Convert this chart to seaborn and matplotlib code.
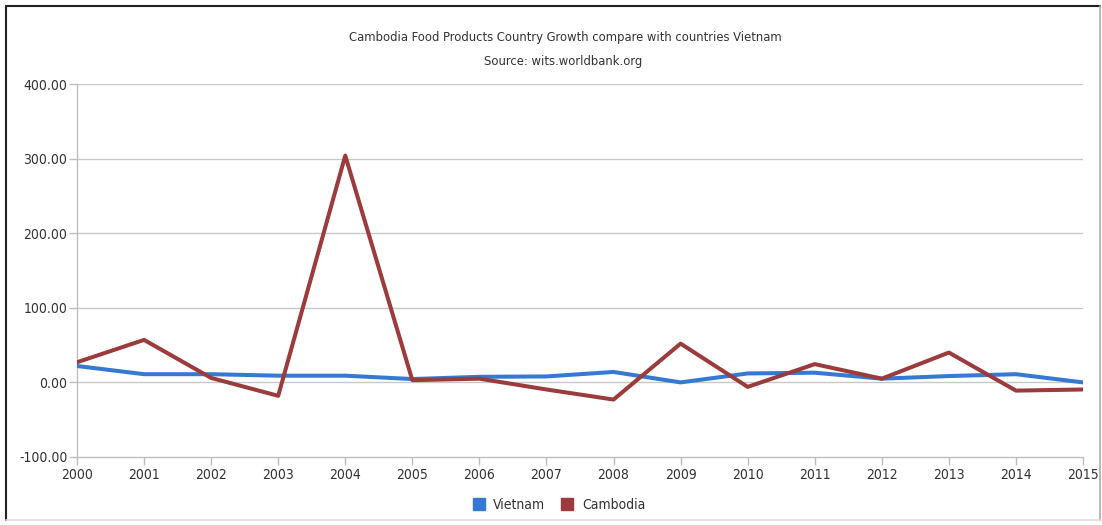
import matplotlib
matplotlib.use("Agg")
import matplotlib.pyplot as plt
import seaborn as sns
import pandas as pd
from matplotlib.lines import Line2D
from matplotlib import font_manager

years = list(range(2000, 2016))
vietnam = [22, 11, 11, 9, 9, 4.5, 7.5, 8, 14, 0, 12, 13, 5, 8.5, 11, 0]
cambodia = [27, 57, 6, -18, 304, 3, 5, -9.5, -23, 52, -6, 24.5, 5, 40, -11, -9.5]
series_names = ["Vietnam", "Cambodia"]
colors = ["#3579d3", "#9c3b3b"]
yticks = [-100, 0, 100, 200, 300, 400]
title_lines = ["Cambodia Food Products Country Growth compare with countries Vietnam",
               "Source: wits.worldbank.org"]

df = pd.concat([
    pd.DataFrame({"year": years, "value": vietnam, "country": "Vietnam"}),
    pd.DataFrame({"year": years, "value": cambodia, "country": "Cambodia"}),
])

sns.set_style("white")
names = {f.name for f in font_manager.fontManager.ttflist}
narrow = [n for n in ["Liberation Sans Narrow", "DejaVu Sans Condensed"] if n in names]
cond_dejavu = any(f.name == "DejaVu Sans" and f.stretch == "condensed" for f in font_manager.fontManager.ttflist)
if narrow:
    plt.rcParams["font.family"] = [narrow[0], "DejaVu Sans"]
elif cond_dejavu:
    plt.rcParams["font.family"] = ["DejaVu Sans"]
    plt.rcParams["font.stretch"] = "condensed"
else:
    plt.rcParams["font.family"] = ["Liberation Sans", "DejaVu Sans"]

fig = plt.figure(figsize=(11.02, 5.25), dpi=100)
ax = fig.add_axes([77/1102, 68/525, (1083-77)/1102, (457-84)/525])

sns.lineplot(data=df, x="year", y="value", hue="country", hue_order=series_names,
             palette=colors, linewidth=2.9, ax=ax, legend=False, zorder=3)

ax.set_xlim(2000, 2015)
ax.set_ylim(-100, 400)
ax.set_xticks(years)
ax.set_xticklabels([str(y) for y in years])
ax.set_yticks(yticks)
ax.set_yticklabels([f"{v:.2f}" for v in yticks])
for v in yticks[1:]:
    ax.axhline(v, color="#c8c8c8", lw=1, zorder=1)
ax.set_xlabel("")
ax.set_ylabel("")
for s in ["top", "right"]:
    ax.spines[s].set_visible(False)
for s in ["left", "bottom"]:
    ax.spines[s].set_color("#bdbdbd")
    ax.spines[s].set_linewidth(1)
ax.tick_params(axis="both", which="both", length=6, width=1, color="#bdbdbd",
               labelsize=10, labelcolor="#333333", pad=2, direction="out",
               left=True, bottom=True)
ax.tick_params(axis="y", pad=1)

fig.text(565/1102, 1 - 38/525, title_lines[0], ha="center", va="center", fontsize=9.3, color="#333333")
fig.text(563/1102, 1 - 61/525, title_lines[1], ha="center", va="center", fontsize=9.3, color="#333333")

handles = [Line2D([0], [0], marker="s", linestyle="none", markersize=9,
                  markerfacecolor=c, markeredgecolor=c) for c in colors]
fig.legend(handles, series_names, loc="center", bbox_to_anchor=(555/1102, 1 - 505/525),
           ncol=2, frameon=False, fontsize=10, handletextpad=0.05, columnspacing=0.6,
           labelcolor="#333333")

# outer frame
fig.add_artist(Line2D([6/1102, 6/1102], [1 - 520/525, 1 - 6/525], transform=fig.transFigure, color="#222222", lw=1.5))
fig.add_artist(Line2D([6/1102, 1100/1102], [1 - 6/525, 1 - 6/525], transform=fig.transFigure, color="#222222", lw=1.5))
fig.add_artist(Line2D([1100/1102, 1100/1102], [1 - 520/525, 1 - 6/525], transform=fig.transFigure, color="#aaaaaa", lw=1.2))
fig.add_artist(Line2D([6/1102, 1100/1102], [1 - 520/525, 1 - 520/525], transform=fig.transFigure, color="#dddddd", lw=1.2))

fig.savefig("out.png", dpi=100)
